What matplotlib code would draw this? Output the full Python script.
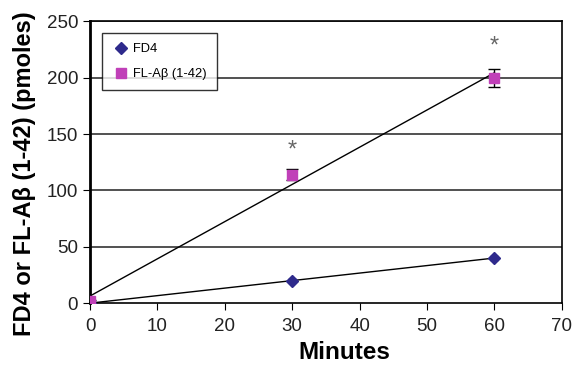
import numpy as np
import matplotlib
matplotlib.use('Agg')
import matplotlib.pyplot as plt

plt.rcParams['font.family'] = ['Liberation Sans', 'DejaVu Sans']

# Data
minutes = [0, 30, 60]
fd4 = [0, 20, 40]
fd4_err = [0.5, 1.5, 2]
abeta = [2, 114, 200]
abeta_err = [1, 5, 8]
star_pos = [(30, 135), (60, 228)]

fig = plt.figure(figsize=(5.81, 3.67), dpi=100)
ax = fig.add_axes([0.155, 0.174, 0.812, 0.768])

# Gridlines
for y in [50, 100, 150, 200, 250]:
    ax.axhline(y, color='#333333', lw=1.2, zorder=0)

# Linear trendlines
for ys in (fd4, abeta):
    m, b = np.polyfit(minutes, ys, 1)
    xs = np.array([0, 60])
    ax.plot(xs, m * xs + b, color='black', lw=1, zorder=2)

ax.errorbar(minutes, fd4, yerr=fd4_err, fmt='D', color='#2E2A8C', ms=6,
            ecolor='black', elinewidth=1, capsize=3, label='FD4', zorder=3)
ax.errorbar(minutes, abeta, yerr=abeta_err, fmt='s', color='#C040B8', ms=7,
            ecolor='black', elinewidth=1, capsize=4, label='FL-A\u03b2 (1-42)', zorder=4)

for x, y in star_pos:
    ax.text(x, y, '*', ha='center', va='center', fontsize=17, color='#666666')

ax.set_xlim(0, 70)
ax.set_ylim(0, 250)
ax.set_xticks(range(0, 71, 10))
ax.set_yticks(range(0, 251, 50))
ax.tick_params(labelsize=13.5, length=5, direction='out', labelcolor='#222222')
ax.tick_params(axis='x', pad=6)
for s in ax.spines.values():
    s.set_linewidth(1.2)
ax.spines['left'].set_linewidth(2)

ax.set_xlabel('Minutes', fontsize=17.5, fontweight='bold')
ax.set_ylabel('FD4 or FL-A\u03b2 (1-42) (pmoles)', fontsize=17, fontweight='bold')
ax.xaxis.set_label_coords(0.538, -0.135)
ax.yaxis.set_label_coords(-0.115, 0.46)

handles, labels = ax.get_legend_handles_labels()
handles = [h[0] for h in handles]
leg = ax.legend(handles, labels, loc='upper left', bbox_to_anchor=(0.025, 0.957),
                borderaxespad=0, fontsize=9.3, frameon=True, fancybox=False,
                handletextpad=0.3, labelspacing=1.0, borderpad=0.75,
                handlelength=1.4)
leg.get_frame().set_edgecolor('black')
leg.get_frame().set_linewidth(1)

fig.savefig('out.png', dpi=100)
